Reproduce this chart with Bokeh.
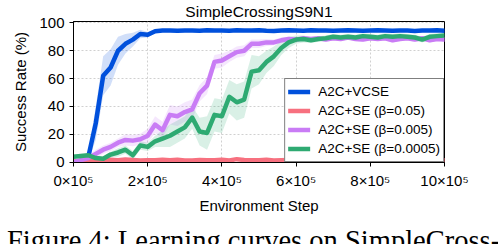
from bokeh.plotting import figure
from bokeh.models import Range1d, FixedTicker, Legend, LegendItem, ColumnDataSource, Div
from bokeh.layouts import column
from bokeh.embed import file_html
from bokeh.resources import INLINE
import numpy as np

# ---------------- data ----------------
steps = [i * 20000 for i in range(51)]

vcse_mean = [0, 0, 4, 28, 62, 68, 80, 85, 88, 92, 91.5, 94, 94.5, 94.5, 94.3, 94.6,
             94.5, 94.4, 94.8, 94.5, 94.6, 94.3, 94.7, 94.5, 94.6, 94.8, 94.4, 94.2,
             94.6, 94.7, 94.5, 94.4, 94.8, 94.6, 94.5, 94.3, 94.6, 94.7, 94.5, 94.4,
             94.6, 94.8, 94.5, 94.3, 94.6, 94.5, 94.2, 94.6, 94.5, 94.7, 94.3]
vcse_std = [0, 0, 3, 12, 14, 13, 10, 7, 5, 3, 2, 1.5, 1, 1, 1, 1, 1, 1, 1, 1, 1, 1,
            1, 1, 1, 1, 1, 1, 1, 1, 1, 1, 1, 1, 1, 1, 1, 1, 1, 1, 1, 1, 1, 1, 1, 1,
            1, 1, 1, 1, 1]

se05_mean = [0.5, 0.8, 1.0, 1.2, 1.5, 1.8, 1.5, 2.0, 1.6, 1.2, 1.5, 1.4, 1.8, 1.5,
             1.7, 1.3, 1.2, 1.6, 1.4, 1.5, 1.8, 1.3, 2.2, 1.6, 1.4, 1.5, 1.7, 1.3,
             1.5, 1.6, 1.2, 1.4, 1.7, 1.5, 1.3, 1.6, 1.4, 1.8, 1.5, 1.3, 1.6, 1.4,
             1.7, 1.5, 1.2, 1.6, 1.4, 1.8, 1.5, 1.6, 1.5]
se05_std = [0.6] * 51

se005_mean = [0, 1.5, 3, 6, 9, 11, 14, 16, 15.5, 16.5, 19, 27, 23, 34, 33, 36, 38,
              49.5, 55, 72, 73, 76, 79, 80, 85, 85, 86, 86, 87.5, 88.5, 88, 89, 88.5,
              89, 88, 89, 88.5, 89.5, 88.5, 88, 89, 88.5, 89, 87.5, 88.5, 89, 88, 89,
              87.5, 88.5, 88]
se005_std = [0.5, 1.5, 2, 3, 3, 3, 3, 4, 4, 4, 5, 6, 6, 7, 7, 7, 7, 6, 6, 5, 5, 4,
             4, 4, 3, 3, 2.5, 2, 2, 1.5, 1.5, 1.5, 1.5, 1.5, 1.5, 1.5, 1.5, 1.5, 1.5,
             1.5, 1.5, 1.5, 1.5, 1.5, 1.5, 1.5, 1.5, 1.5, 1.5, 1.5, 1.5]

se0005_mean = [4, 4.5, 5, 3, 2.5, 5.5, 7, 9, 5, 12, 11, 15, 17, 19, 22, 25, 32, 22,
               21, 34, 33, 47, 43, 45, 65, 66, 72, 76, 82, 86, 88, 88.5, 87.5, 88.5,
               89, 90, 89.5, 90, 89.5, 90.5, 90, 89.5, 90.5, 90, 90.5, 90, 89.5, 88,
               90, 90.5, 91]
se0005_std = [1.5, 1.5, 1.5, 1.5, 1.5, 2, 3, 3, 3, 3, 3, 4, 6, 8, 8, 8, 8, 10, 12,
              12, 12, 12, 13, 13, 12, 10, 8, 7, 5, 4, 3, 2.5, 2, 2, 2, 2, 2, 2, 2, 2,
              2, 2, 2, 2, 2, 2, 2, 2, 2, 2, 2]

series_names = ["A2C+VCSE", "A2C+SE (\u03b2=0.05)", "A2C+SE (\u03b2=0.005)", "A2C+SE (\u03b2=0.0005)"]
series_colors = ["#0050dc", "#f7707f", "#c97cf5", "#2eaa72"]

y_ticks = [0, 20, 40, 60, 80, 100]
x_tick_values = [0, 200000, 400000, 600000, 800000, 1000000]
x_tick_labels = ["0\u00d710\u2075", "2\u00d710\u2075", "4\u00d710\u2075",
                 "6\u00d710\u2075", "8\u00d710\u2075", "10\u00d710\u2075"]

title_text = "SimpleCrossingS9N1"
x_label = "Environment Step"
y_label = "Success Rate (%)"
caption_text = "Figure 4: Learning curves on SimpleCross-"

# ---------------- figure ----------------
FONT = "Liberation Sans"
p = figure(width=498, height=222, output_backend="svg", toolbar_location=None,
           x_range=Range1d(0, 1000000), y_range=Range1d(-0.2, 101),
           min_border_left=73, min_border_right=54, min_border_top=21,
           min_border_bottom=60)
p.background_fill_color = "white"
p.border_fill_color = "white"
p.outline_line_color = "black"
p.outline_line_width = 1

p.title.text = title_text
p.title.align = "center"
p.title.vertical_align = "top"
p.title.standoff = 0
p.title.text_font = FONT
p.title.text_font_size = "15.5px"
p.title.text_font_style = "normal"
p.title.text_color = "black"

means = [vcse_mean, se05_mean, se005_mean, se0005_mean]
stds = [vcse_std, se05_std, se005_std, se0005_std]

# bands
for m, s, c in zip(means, stds, series_colors):
    m_ = np.array(m, dtype=float)
    s_ = np.array(s, dtype=float)
    src = ColumnDataSource(dict(x=steps, lo=np.clip(m_ - s_, 0, 100), hi=np.clip(m_ + s_, 0, 100)))
    p.varea(x="x", y1="lo", y2="hi", source=src, fill_color=c, fill_alpha=0.18)

renderers = []
for i in range(4):
    src = ColumnDataSource(dict(x=steps, y=means[i]))
    r = p.line(x="x", y="y", source=src, line_color=series_colors[i], line_width=4.5,
               line_join="round", line_cap="round")
    renderers.append(r)

legend = Legend(items=[LegendItem(label=n, renderers=[r]) for n, r in zip(series_names, renderers)],
                location="bottom_right")
legend.margin = 0
legend.padding = 3
legend.spacing = 0
legend.label_height = 19
legend.glyph_height = 19
legend.glyph_width = 22
legend.label_standoff = 8
legend.label_text_font = FONT
legend.label_text_font_size = "13.5px"
legend.label_text_color = "black"
legend.border_line_color = "black"
legend.border_line_width = 1
legend.background_fill_alpha = 1.0
p.add_layout(legend, "center")

# grid
for g in (p.xgrid, p.ygrid):
    g.grid_line_color = "#d0d0d0"
    g.grid_line_dash = "2 2"
    g.grid_line_width = 1
p.xgrid.ticker = FixedTicker(ticks=x_tick_values)
p.ygrid.ticker = FixedTicker(ticks=y_ticks)

# axes
p.xaxis.ticker = FixedTicker(ticks=x_tick_values)
p.xaxis.major_label_overrides = {v: l for v, l in zip(x_tick_values, x_tick_labels)}
p.yaxis.ticker = FixedTicker(ticks=y_ticks)
for ax in (p.xaxis[0], p.yaxis[0]):
    ax.major_tick_out = 4
    ax.major_tick_in = 0
    ax.minor_tick_line_color = None
    ax.axis_line_color = "black"
    ax.major_tick_line_color = "black"
    ax.major_label_text_font = FONT
    ax.major_label_text_font_size = "15px"
    ax.major_label_text_color = "black"
    ax.axis_label_text_font = FONT
    ax.axis_label_text_font_size = "15px"
    ax.axis_label_text_font_style = "normal"
    ax.axis_label_text_color = "black"
p.xaxis.axis_label = x_label
p.yaxis.axis_label = y_label
p.xaxis.major_label_standoff = 5
p.yaxis.major_label_standoff = 5
p.xaxis.axis_label_standoff = 5
p.yaxis.axis_label_standoff = 7

# caption below the chart (cut by the page edge, as in the reference)
caption = Div(
    text=('<div style="font-family:\'Liberation Serif\';font-size:28.5px;line-height:27px;'
          'white-space:nowrap;padding-left:2px;color:black;">' + caption_text + '</div>'),
    width=498, height=22, styles={"overflow": "hidden"})

layout = column(p, caption, spacing=0)

open("out.html", "w").write(file_html(layout, INLINE))
